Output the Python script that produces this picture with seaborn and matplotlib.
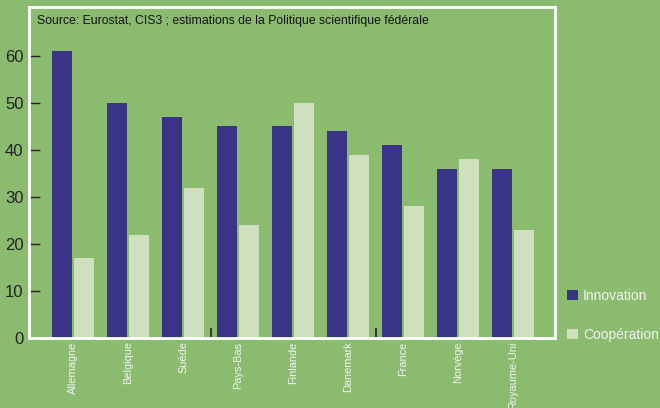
import matplotlib
matplotlib.use("Agg")
import matplotlib.pyplot as plt
import seaborn as sns
import pandas as pd
from matplotlib.patches import Patch

pays = ["Allemagne", "Belgique", "Suède", "Pays-Bas", "Finlande",
        "Danemark", "France", "Norvège", "Royaume-Uni"]
innovation = [61, 50, 47, 45, 45, 44, 41, 36, 36]
cooperation = [17, 22, 32, 24, 50, 39, 28, 38, 23]
series = ["Innovation", "Coopération"]
yticks = [0, 10, 20, 30, 40, 50, 60]

bg = "#8BBB6E"
c_dark = "#3A3486"
c_light = "#CFE0BE"

df = pd.DataFrame({
    "pays": pays * 2,
    "valeur": innovation + cooperation,
    "serie": [series[0]] * len(pays) + [series[1]] * len(pays),
})

sns.set_theme(style="white")
plt.rcParams['font.family'] = ['Liberation Sans', 'DejaVu Sans']

fig = plt.figure(figsize=(6.6, 4.08), dpi=100, facecolor=bg)
ax = fig.add_axes([0.044, 0.1716, 0.797, 0.8114])
ax.set_facecolor(bg)

sns.barplot(data=df, x="pays", y="valeur", hue="serie", order=pays,
            hue_order=series, palette=[c_dark, c_light], width=0.8, gap=0.08,
            saturation=1, ax=ax, legend=False, linewidth=0)

ax.set_xlim(-0.8, 8.76)
ax.set_ylim(0, 70.4)
ax.set_yticks(yticks)
ax.set_yticklabels([str(v) for v in yticks], fontsize=12, color="#222222")
ax.tick_params(axis="y", direction="in", length=8, width=1, color="#222222", pad=4, left=True)
ax.set_xticks(range(len(pays)))
ax.set_xticklabels(pays, rotation=90, fontsize=7.9, color="#F4F4F4", va="top")
ax.set_xticks([2.5, 5.5], minor=True)
ax.tick_params(axis="x", which="major", length=0, pad=2.5)
ax.tick_params(axis="x", which="minor", direction="in", length=7, width=1.2,
               color="#222222", bottom=True)
ax.set_xlabel("")
ax.set_ylabel("")
for s in ax.spines.values():
    s.set_color("white")
    s.set_linewidth(2)

ax.text(0.016, 0.975, "Source: Eurostat, CIS3 ; estimations de la Politique scientifique fédérale",
        transform=ax.transAxes, fontsize=8.8, color="#111111", va="top", ha="left")

handles = [Patch(facecolor=c_dark, edgecolor="none"), Patch(facecolor=c_light, edgecolor="none")]
fig.legend(handles, series, loc="upper left", bbox_to_anchor=(0.859, 0.292),
           frameon=False, fontsize=10, labelcolor="#F4F4F4", handlelength=0.8,
           handleheight=0.8, handletextpad=0.35, labelspacing=1.8, borderaxespad=0,
           borderpad=0)

fig.savefig("out.png", dpi=100, facecolor=bg)
